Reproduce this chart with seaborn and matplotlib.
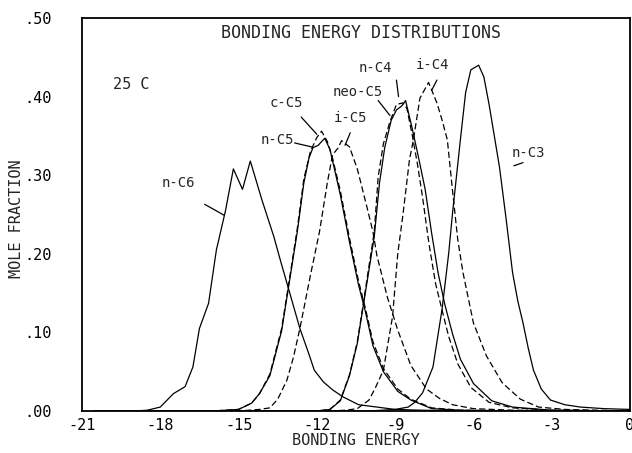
import numpy as np
import pandas as pd
import matplotlib
matplotlib.use("Agg")
import matplotlib.pyplot as plt
import seaborn as sns

# ---- data ----
nC6_x = [-20.5, -19, -18.5, -18.0, -17.5, -17.05, -16.75, -16.5, -16.15, -15.85, -15.5, -15.2, -14.85, -14.55,
         -14.1, -13.65, -13.4, -13.15, -12.65, -12.3, -12.1, -11.75, -11.4, -11.0, -10.4, -9.7, -9.0, -8.0, -6, -3, 0]
nC6_y = [0, 0, 0.001, 0.005, 0.022, 0.031, 0.056, 0.105, 0.137, 0.205, 0.255, 0.308, 0.282, 0.318,
         0.268, 0.222, 0.192, 0.163, 0.105, 0.072, 0.052, 0.037, 0.027, 0.018, 0.008, 0.005, 0.002, 0.001, 0, 0, 0]

nC5_x = [-20.5, -16, -15.0, -14.5, -14.2, -13.8, -13.35, -13.05, -12.75, -12.5, -12.3, -12.15, -11.95, -11.7,
         -11.5, -11.1, -10.75, -10.4, -10.15, -9.85, -9.45, -8.9, -8.4, -7.6, -6.5, -4, 0]
nC5_y = [0, 0, 0.002, 0.01, 0.022, 0.045, 0.102, 0.165, 0.228, 0.29, 0.322, 0.335, 0.338, 0.347,
         0.333, 0.275, 0.215, 0.16, 0.128, 0.083, 0.05, 0.025, 0.014, 0.003, 0.001, 0, 0]

cC5_x = [-20.5, -16, -15.0, -14.5, -14.2, -13.8, -13.35, -13.05, -12.75, -12.5, -12.25, -12.0, -11.82, -11.6,
         -11.4, -11.1, -10.75, -10.4, -10.15, -9.85, -9.45, -8.9, -8.4, -7.6, -6.5, -4, 0]
cC5_y = [0, 0, 0.002, 0.01, 0.022, 0.047, 0.105, 0.168, 0.232, 0.295, 0.33, 0.348, 0.356, 0.343,
         0.322, 0.28, 0.22, 0.165, 0.132, 0.088, 0.054, 0.028, 0.015, 0.004, 0.001, 0, 0]

iC5_x = [-20.5, -15, -14.2, -13.8, -13.5, -13.15, -12.9, -12.65, -12.25, -11.9, -11.6, -11.4, -11.2, -11.05,
         -10.75, -10.45, -10.35, -10.1, -9.85, -9.7, -9.3, -8.9, -8.4, -7.8, -7.3, -6.8, -6, -4.5, 0]
iC5_y = [0, 0, 0.002, 0.004, 0.015, 0.039, 0.068, 0.105, 0.172, 0.228, 0.29, 0.326, 0.334, 0.344,
         0.336, 0.308, 0.295, 0.262, 0.228, 0.198, 0.145, 0.103, 0.058, 0.028, 0.016, 0.008, 0.003, 0.001, 0]

neoC5_x = [-20.5, -13, -12, -11.5, -11.1, -10.75, -10.45, -10.25, -10.0, -9.8, -9.65, -9.45, -9.2, -8.95,
           -8.7, -8.55, -8.35, -8.15, -7.95, -7.7, -7.45, -7.2, -6.95, -6.6, -6.1, -5.4, -4.5, -3, 0]
neoC5_y = [0, 0, 0, 0.002, 0.014, 0.046, 0.088, 0.13, 0.185, 0.228, 0.298, 0.34, 0.368, 0.39,
           0.392, 0.385, 0.352, 0.315, 0.272, 0.212, 0.162, 0.128, 0.095, 0.06, 0.03, 0.011, 0.004, 0.001, 0]

nC4_x = [-20.5, -13, -12, -11.5, -11.1, -10.75, -10.45, -10.25, -10.0, -9.8, -9.6, -9.4, -9.15, -8.95,
         -8.75, -8.6, -8.35, -8.1, -7.85, -7.6, -7.35, -7.1, -6.8, -6.5, -6.0, -5.3, -4.5, -3, 0]
nC4_y = [0, 0, 0, 0.002, 0.013, 0.045, 0.086, 0.128, 0.18, 0.222, 0.29, 0.335, 0.37, 0.383,
         0.388, 0.395, 0.36, 0.322, 0.282, 0.226, 0.175, 0.136, 0.098, 0.066, 0.035, 0.013, 0.005, 0.001, 0]

iC4_x = [-20.5, -11.5, -10.9, -10.45, -10.0, -9.75, -9.45, -9.1, -8.9, -8.7, -8.45, -8.3, -8.05, -7.72,
         -7.4, -7.2, -7.0, -6.8, -6.6, -6.4, -6.0, -5.5, -4.9, -4.2, -3.5, -2.5, 0]
iC4_y = [0, 0, 0.001, 0.003, 0.014, 0.03, 0.052, 0.12, 0.2, 0.25, 0.32, 0.345, 0.398, 0.418,
         0.392, 0.37, 0.345, 0.28, 0.218, 0.176, 0.112, 0.07, 0.036, 0.015, 0.005, 0.002, 0]

nC3_x = [-20.5, -10, -9, -8.5, -8.25, -7.95, -7.55, -7.2, -6.95, -6.8, -6.5, -6.3, -6.1, -5.8, -5.6,
         -5.4, -5.2, -5.0, -4.75, -4.5, -4.3, -4.1, -3.9, -3.7, -3.4, -3.05, -2.5, -1.9, -1, 0]
nC3_y = [0, 0, 0.002, 0.005, 0.011, 0.023, 0.056, 0.13, 0.2, 0.252, 0.345, 0.405, 0.434, 0.44, 0.425,
         0.39, 0.35, 0.31, 0.245, 0.176, 0.14, 0.112, 0.08, 0.052, 0.028, 0.014, 0.008, 0.005, 0.003, 0.002]

species = ["n-C6", "n-C5", "c-C5", "i-C5", "neo-C5", "n-C4", "i-C4", "n-C3"]
xs = [nC6_x, nC5_x, cC5_x, iC5_x, neoC5_x, nC4_x, iC4_x, nC3_x]
ys = [nC6_y, nC5_y, cC5_y, iC5_y, neoC5_y, nC4_y, iC4_y, nC3_y]
dashed = {"n-C6": False, "n-C5": False, "c-C5": True, "i-C5": True,
          "neo-C5": True, "n-C4": False, "i-C4": True, "n-C3": False}

x_ticks = [-21, -18, -15, -12, -9, -6, -3, 0]
x_ticklabels = ["-21", "-18", "-15", "-12", "-9", "-6", "-3", "0"]
y_ticks = [0.0, 0.1, 0.2, 0.3, 0.4, 0.5]
y_ticklabels = [".00", ".10", ".20", ".30", ".40", ".50"]

# label text, text position, leader line start/end (data coords)
labels = {
    "n-C6":   ((-17.3, 0.290), (-16.3, 0.263), (-15.55, 0.249)),
    "n-C5":   ((-13.5, 0.345), (-12.85, 0.341), (-12.2, 0.336)),
    "c-C5":   ((-13.15, 0.392), (-12.6, 0.374), (-12.0, 0.352)),
    "i-C5":   ((-10.7, 0.373), (-10.72, 0.354), (-10.92, 0.338)),
    "neo-C5": ((-10.45, 0.406), (-9.65, 0.395), (-9.2, 0.376)),
    "n-C4":   ((-9.75, 0.436), (-8.95, 0.421), (-8.87, 0.400)),
    "i-C4":   ((-7.55, 0.440), (-7.4, 0.421), (-7.6, 0.408)),
    "n-C3":   ((-3.9, 0.328), (-4.1, 0.316), (-4.45, 0.312)),
}

# ---- plotting ----
sns.set_style("white")
plt.rcParams["font.family"] = ["DejaVu Sans Mono", "DejaVu Sans"]

df = pd.concat([pd.DataFrame({"energy": x, "frac": y, "species": s})
                for s, x, y in zip(species, xs, ys)], ignore_index=True)

fig = plt.figure(figsize=(6.32, 4.53), dpi=100)
ax = fig.add_axes([82 / 632, 1 - 411 / 453, (630 - 82) / 632, (411 - 18) / 453])

sns.lineplot(data=df, x="energy", y="frac", hue="species", style="species",
             palette={s: "black" for s in species},
             dashes={s: ((5.0, 2.5) if dashed[s] else "") for s in species},
             sort=False, estimator=None, units="species", legend=False,
             linewidth=0.9, ax=ax)

ax.set_xlim(-21, 0)
ax.set_ylim(0, 0.5)
ax.set_xticks(x_ticks)
ax.set_xticklabels(x_ticklabels)
ax.set_yticks(y_ticks)
ax.set_yticklabels(y_ticklabels)
ax.tick_params(axis="both", which="both", direction="out", length=4, width=1.2,
               labelsize=11, colors="black")
ax.tick_params(axis="y", pad=18)
ax.tick_params(axis="x", pad=1)
for sp in ax.spines.values():
    sp.set_visible(True)
    sp.set_color("black")
    sp.set_linewidth(1.3)

ax.set_xlabel("BONDING ENERGY", fontsize=11, labelpad=0)
ax.set_ylabel("MOLE FRACTION", fontsize=11)
ax.yaxis.set_label_coords(-0.105, 0.49)

ax.text(-10.3, 0.481, "BONDING ENERGY DISTRIBUTIONS", fontsize=12, ha="center", va="center")
ax.text(-19.1, 0.415, "25 C", fontsize=11, ha="center", va="center")

for s, (tpos, p0, p1) in labels.items():
    ax.text(tpos[0], tpos[1], s, fontsize=10, ha="center", va="center")
    ax.plot([p0[0], p1[0]], [p0[1], p1[1]], color="black", lw=0.9)

fig.savefig("out.png", dpi=100)
